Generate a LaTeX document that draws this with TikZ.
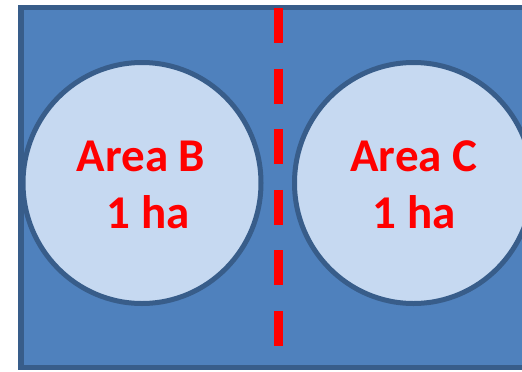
\documentclass[tikz,border=0pt]{standalone}
\usepackage{fontspec}
\setmainfont{Carlito}
\definecolor{boxfill}{HTML}{4F81BD}
\definecolor{boxline}{HTML}{385D8A}
\definecolor{areafill}{HTML}{C6D9F1}
\definecolor{redline}{HTML}{FF0000}
\tikzset{
  field/.style={draw=boxline, fill=boxfill, line width=5.5pt},
  area/.style={ellipse, draw=boxline, fill=areafill, line width=5pt, minimum width=238pt, minimum height=241pt, inner sep=0pt},
  divider/.style={draw=redline, line width=9pt, dash pattern=on 35pt off 25.6pt},
  label/.style={text=redline, font=\fontsize{47}{56}\selectfont\bfseries, anchor=base, inner sep=0pt}
}
\usetikzlibrary{shapes.geometric}
\begin{document}
\begin{tikzpicture}[x=1pt,y=-1pt]
\useasboundingbox (0,0) rectangle (522,372);
\clip (0,0) rectangle (522,372);
\draw[field] (21,7.5) rectangle (535,367.5);
\node[area] (b) at (142,183) {};
\node[area] (c) at (413.5,183) {};
\coordinate (top) at (278,8);
\coordinate (bot) at (278,347);
\draw[divider] (top) -- (bot);
\node[label] (b1) at (141,171) {Area B};
\node[label] (b2) at (148,228) {1 ha};
\node[label] (c1) at (414,171) {Area C};
\node[label] (c2) at (414,228) {1 ha};
\end{tikzpicture}
\end{document}
